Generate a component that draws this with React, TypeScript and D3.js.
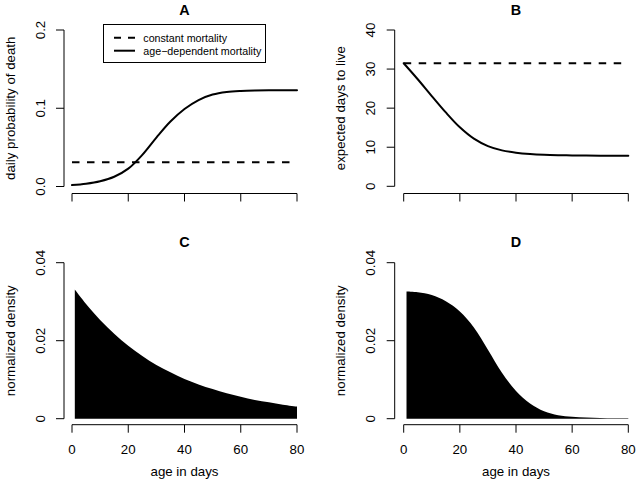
import React from "react";
import * as d3 from "d3";

const W = 638;
const H = 484;
const FONT = "'Liberation Sans', Arial, Helvetica, sans-serif";

// ages (days) at which the curves were read
const agesTop = [0, 5, 10, 15, 20, 25, 30, 35, 40, 45, 50, 55, 60, 65, 70, 75, 80];
const agesBottom = [1, 5, 10, 15, 20, 25, 30, 35, 40, 45, 50, 55, 60, 65, 70, 75, 80];

// A: daily probability of death
const constantDeath = 0.031;
const ageDepDeath = [0.0018, 0.0036, 0.0068, 0.0125, 0.0228, 0.0405, 0.0625, 0.083, 0.099,
  0.1105, 0.1175, 0.1208, 0.1222, 0.1228, 0.123, 0.123, 0.123];

// B: expected days to live
const constantExpected = 31.5;
const ageDepExpected = [31.5, 27.4, 23.1, 18.9, 15.1, 12.2, 10.3, 9.2, 8.6, 8.25, 8.05, 7.95,
  7.9, 7.87, 7.85, 7.85, 7.85];

// C, D: normalized density
const densityConstant = [0.0331, 0.0294, 0.0253, 0.0218, 0.0187, 0.0161, 0.0138, 0.0119, 0.0102,
  0.0088, 0.0076, 0.0065, 0.0056, 0.0048, 0.0042, 0.0036, 0.0031];
const densityAgeDep = [0.0326, 0.0324, 0.0317, 0.0301, 0.0275, 0.0234, 0.0177, 0.0118, 0.0071,
  0.0039, 0.0019, 0.0009, 0.0005, 0.0003, 0.0002, 0.0001, 0.0001];

const ageTicks = [0, 20, 40, 60, 80];
const deathTicks = [0, 0.1, 0.2];
const deathTickLabels = ["0.0", "0.1", "0.2"];
const expectedTicks = [0, 10, 20, 30, 40];
const expectedTickLabels = ["0", "10", "20", "30", "40"];
const densityTicks = [0, 0.02, 0.04];
const densityTickLabels = ["0", "0.02", "0.04"];

const legendLabels = ["constant mortality", "age\u2212dependent mortality"];

const DASH = "7.5,7.5";

type PanelProps = {
  title: string;
  axisX: number;
  xRange: [number, number];
  yRange: [number, number];
  yDomain: [number, number];
  yTicks: number[];
  yTickLabels: string[];
  yLabel: string;
  xAxisY: number;
  titleY: number;
  xLabels: boolean;
  draw: (x: d3.ScaleLinear<number, number>, y: d3.ScaleLinear<number, number>) => React.ReactNode;
};

function Panel(p: PanelProps) {
  const x = d3.scaleLinear().domain([0, 80]).range(p.xRange);
  const y = d3.scaleLinear().domain(p.yDomain).range(p.yRange);
  const cx = (p.xRange[0] + p.xRange[1]) / 2;
  const cy = (p.yRange[0] + p.yRange[1]) / 2;
  const yTop = y(p.yTicks[p.yTicks.length - 1]);
  const yBot = y(p.yTicks[0]);
  return (
    <g>
      <text x={cx} y={p.titleY} textAnchor="middle" fontWeight="bold" fontSize={14.4}>
        {p.title}
      </text>
      {p.draw(x, y)}
      {/* y axis */}
      <line x1={p.axisX} x2={p.axisX} y1={yTop} y2={yBot} stroke="#000" strokeWidth={1} />
      {p.yTicks.map((t, i) => (
        <g key={"yt" + i}>
          <line x1={p.axisX - 8} x2={p.axisX} y1={y(t)} y2={y(t)} stroke="#000" strokeWidth={1} />
          <text
            transform={`translate(${p.axisX - 19.5},${y(t)}) rotate(-90)`}
            textAnchor="middle"
            fontSize={13.3}
          >
            {p.yTickLabels[i]}
          </text>
        </g>
      ))}
      <text
        transform={`translate(${p.axisX - 49.5},${cy}) rotate(-90)`}
        textAnchor="middle"
        fontSize={13.3}
      >
        {p.yLabel}
      </text>
      {/* x axis */}
      <line x1={x(0)} x2={x(80)} y1={p.xAxisY} y2={p.xAxisY} stroke="#000" strokeWidth={1} />
      {ageTicks.map((t) => (
        <g key={"xt" + t}>
          <line x1={x(t)} x2={x(t)} y1={p.xAxisY} y2={p.xAxisY + 8} stroke="#000" strokeWidth={1} />
          {p.xLabels && (
            <text x={x(t)} y={p.xAxisY + 29.3} textAnchor="middle" fontSize={13.3}>
              {t}
            </text>
          )}
        </g>
      ))}
      {p.xLabels && (
        <text x={cx} y={p.xAxisY + 51} textAnchor="middle" fontSize={13.3}>
          age in days
        </text>
      )}
    </g>
  );
}

const smooth = d3.curveCatmullRom.alpha(0.5);

function curveLine(ages: number[], vals: number[], x: any, y: any) {
  const gen = d3
    .line<number>()
    .x((_, i) => x(ages[i]))
    .y((d) => y(d))
    .curve(smooth);
  return gen(vals) || "";
}

function curveArea(ages: number[], vals: number[], x: any, y: any) {
  const gen = d3
    .area<number>()
    .x((_, i) => x(ages[i]))
    .y0(y(0))
    .y1((d) => y(d))
    .curve(smooth);
  return gen(vals) || "";
}

export default function App() {
  const left: [number, number] = [72, 297];
  const right: [number, number] = [403.7, 628.3];
  const topY: [number, number] = [186.5, 30];
  const botY: [number, number] = [418.7, 262.7];

  return (
    <svg
      width={W}
      height={H}
      style={{ position: "absolute", left: 0, top: 0, background: "#fff" }}
      fontFamily={FONT}
    >
      <rect width={W} height={H} fill="#fff" />
      <Panel
        title="A"
        axisX={64}
        xRange={left}
        yRange={topY}
        yDomain={[0, 0.2]}
        yTicks={deathTicks}
        yTickLabels={deathTickLabels}
        yLabel="daily probability of death"
        xAxisY={193.5}
        titleY={15}
        xLabels={false}
        draw={(x, y) => (
          <g>
            <line x1={x(0)} x2={x(80)} y1={y(constantDeath)} y2={y(constantDeath)}
              stroke="#000" strokeWidth={2} strokeDasharray={DASH} />
            <path d={curveLine(agesTop, ageDepDeath, x, y)} fill="none" stroke="#000"
              strokeWidth={2} strokeLinejoin="round" strokeLinecap="round" />
            <rect x={103.5} y={24.5} width={162} height={38} fill="#fff" stroke="#000" strokeWidth={1} />
            {legendLabels.map((lab, i) => (
              <g key={lab}>
                <line x1={114} x2={135} y1={37.7 + i * 13} y2={37.7 + i * 13} stroke="#000"
                  strokeWidth={2} strokeDasharray={i === 0 ? "7,7" : undefined} />
                <text x={143.3} y={37.7 + i * 13} dominantBaseline="central" fontSize={10.7}>
                  {lab}
                </text>
              </g>
            ))}
          </g>
        )}
      />
      <Panel
        title="B"
        axisX={394.7}
        xRange={right}
        yRange={[186.3, 30]}
        yDomain={[0, 40]}
        yTicks={expectedTicks}
        yTickLabels={expectedTickLabels}
        yLabel="expected days to live"
        xAxisY={193.5}
        titleY={15}
        xLabels={false}
        draw={(x, y) => (
          <g>
            <line x1={x(0)} x2={x(80)} y1={y(constantExpected)} y2={y(constantExpected)}
              stroke="#000" strokeWidth={2} strokeDasharray={DASH} />
            <path d={curveLine(agesTop, ageDepExpected, x, y)} fill="none" stroke="#000"
              strokeWidth={2} strokeLinejoin="round" strokeLinecap="round" />
          </g>
        )}
      />
      <Panel
        title="C"
        axisX={64}
        xRange={left}
        yRange={botY}
        yDomain={[0, 0.04]}
        yTicks={densityTicks}
        yTickLabels={densityTickLabels}
        yLabel="normalized density"
        xAxisY={424.7}
        titleY={246.5}
        xLabels={true}
        draw={(x, y) => (
          <path d={curveArea(agesBottom, densityConstant, x, y)} fill="#000" stroke="none" />
        )}
      />
      <Panel
        title="D"
        axisX={394.7}
        xRange={right}
        yRange={botY}
        yDomain={[0, 0.04]}
        yTicks={densityTicks}
        yTickLabels={densityTickLabels}
        yLabel="normalized density"
        xAxisY={424.7}
        titleY={246.5}
        xLabels={true}
        draw={(x, y) => (
          <path d={curveArea(agesBottom, densityAgeDep, x, y)} fill="#000" stroke="none" />
        )}
      />
    </svg>
  );
}
